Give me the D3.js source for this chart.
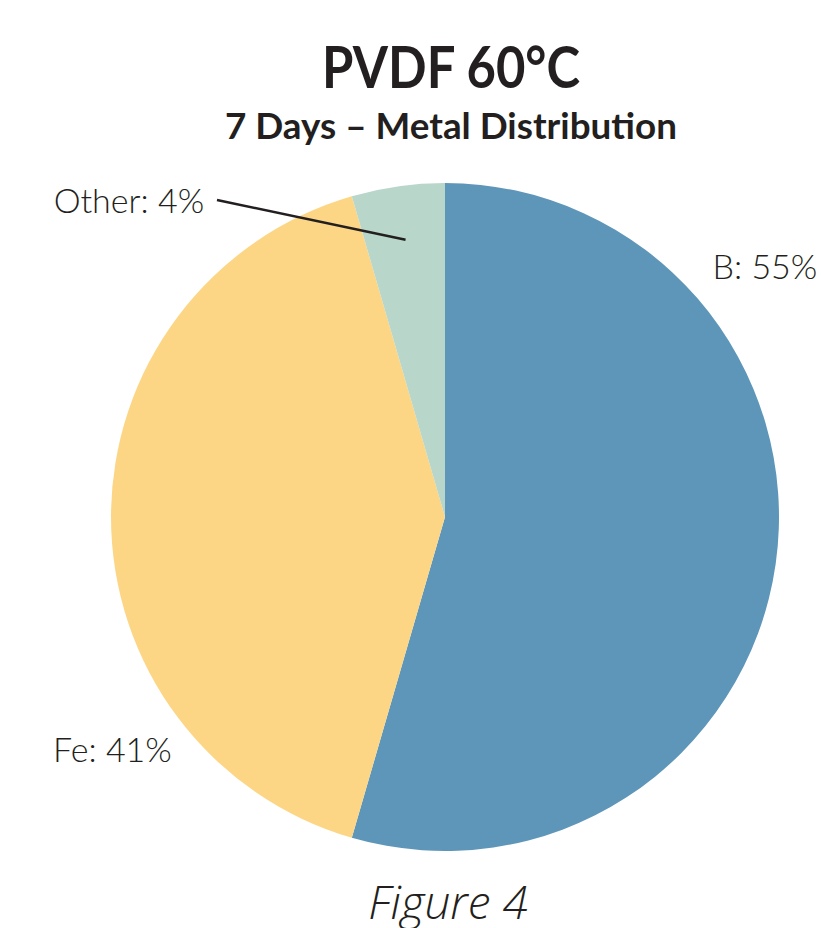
<!DOCTYPE html>
<html>
<head>
<meta charset="utf-8">
<script src="https://cdn.jsdelivr.net/npm/d3@7"></script>
<style>
  body { margin: 0; background: #fff; }
  svg { display: block; }
</style>
</head>
<body>
<svg id="chart" width="821" height="928"></svg>
<script>
// data
var categories = ["B", "Fe", "Other"];
var values = [54.5, 41.0, 4.5];
var labels = ["B: 55%", "Fe: 41%", "Other: 4%"];
var colors = ["#5e96b9", "#fcd684", "#b8d6ca"];

var svg = d3.select("#chart");
var cx = 445, cy = 517, r = 334;

// title
svg.append("text")
    .attr("x", 451).attr("y", 88)
    .attr("text-anchor", "middle")
    .attr("textLength", 258)
    .attr("lengthAdjust", "spacingAndGlyphs")
    .style("font-family", "Lato, 'Open Sans', sans-serif")
    .style("font-weight", "bold")
    .style("font-size", "57px")
    .style("fill", "#231f20")
    .text("PVDF 60°C");

svg.append("text")
    .attr("x", 451).attr("y", 139)
    .attr("text-anchor", "middle")
    .attr("textLength", 452)
    .attr("lengthAdjust", "spacingAndGlyphs")
    .style("font-family", "Lato, 'Open Sans', sans-serif")
    .style("font-weight", "bold")
    .style("font-size", "36px")
    .style("fill", "#231f20")
    .text("7 Days – Metal Distribution");

var pie = d3.pie().sort(null).value(function(d) { return d; });
var arc = d3.arc().innerRadius(0).outerRadius(r);
var arcs = pie(values);

var g = svg.append("g").attr("transform", "translate(" + cx + "," + cy + ")");

g.selectAll("path.slice")
    .data(arcs)
    .enter().append("path")
    .attr("class", "slice")
    .attr("d", arc)
    .style("fill", function(d, i) { return colors[i]; });

// label placement (degrees clockwise from top, radius from centre)
var labelPos = [
  {angle: 52, radius: 406, anchor: "middle"},
  {angle: 235, radius: 406, anchor: "middle"},
  {angle: 315, radius: 447, anchor: "middle"}
];

function polar(a, rad) {
  var t = a * Math.PI / 180;
  return [rad * Math.sin(t), -rad * Math.cos(t)];
}

g.selectAll("text.lbl")
    .data(arcs)
    .enter().append("text")
    .attr("class", "lbl")
    .attr("x", function(d, i) { return polar(labelPos[i].angle, labelPos[i].radius)[0]; })
    .attr("y", function(d, i) { return polar(labelPos[i].angle, labelPos[i].radius)[1] + 12; })
    .attr("text-anchor", function(d, i) { return labelPos[i].anchor; })
    .style("font-family", "Lato, 'Open Sans', sans-serif")
    .style("font-weight", "300")
    .style("font-size", "34px")
    .style("fill", "#231f20")
    .text(function(d, i) { return labels[i]; });

// leader line for the small slice
var other = arcs[2];
var mid = (other.startAngle + other.endAngle) / 2;
var inner = d3.arc().innerRadius(280).outerRadius(280).centroid({startAngle: mid, endAngle: mid});
g.append("line")
    .attr("x1", 217 - cx).attr("y1", 200 - cy)
    .attr("x2", inner[0]).attr("y2", inner[1])
    .style("stroke", "#231f20")
    .style("stroke-width", "2.5px");

// caption
svg.append("text")
    .attr("x", 448).attr("y", 919)
    .attr("text-anchor", "middle")
    .style("font-family", "'Open Sans', Lato, sans-serif")
    .style("font-style", "italic")
    .style("font-weight", "300")
    .style("font-size", "46px")
    .style("fill", "#231f20")
    .text("Figure 4");
</script>
</body>
</html>
